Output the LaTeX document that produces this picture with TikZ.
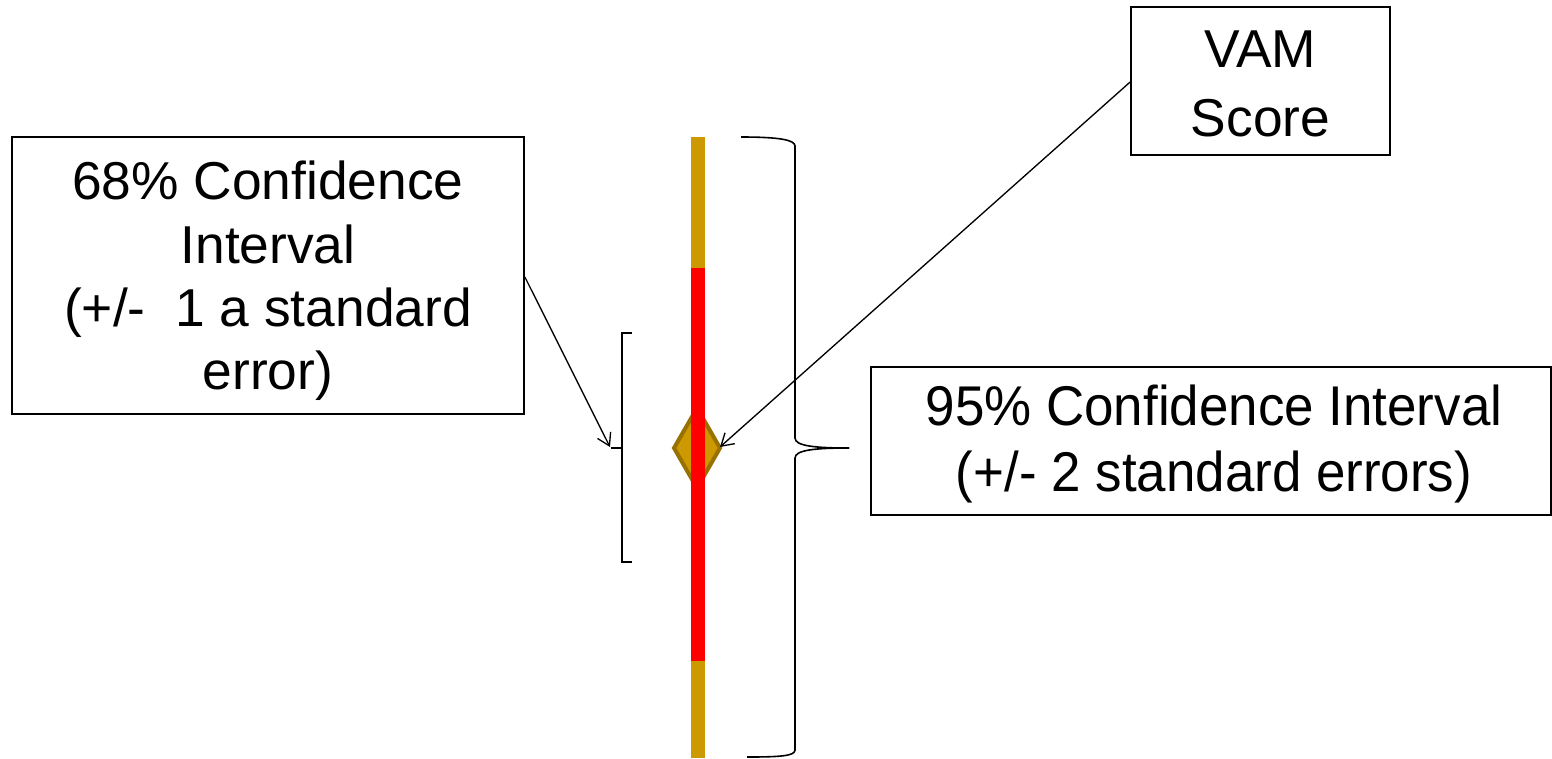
\documentclass[tikz,border=0pt]{standalone}
\usepackage{fontspec}
\setmainfont{Liberation Sans}
\newfontfamily\narrowfont[FakeStretch=0.945]{Liberation Sans}
\usetikzlibrary{arrows.meta}
\definecolor{gold}{HTML}{CC9900}
\definecolor{golddark}{HTML}{987200}
\definecolor{barred}{HTML}{FF0000}
\tikzset{
  labelbox/.style={draw=black, line width=1.3pt, inner sep=0pt},
  labeltext/.style={align=center, inner sep=0pt},
  pointer/.style={line width=1pt, -{Straight Barb[length=9pt,width=11pt]}},
  bracket/.style={line width=1.2pt}
}
\begin{document}
\begin{tikzpicture}[x={(0.75pt,0)}, y={(0,-0.75pt)}]
\useasboundingbox (0,0) rectangle (1552,758);
% boxes
\node[labelbox, minimum width=384pt, minimum height=207.75pt] (ci68) at (268,275.5) {};
\node[labeltext, font=\fontsize{40}{47.5}\selectfont] (ci68t) at (268,281)
  {68\% Confidence\\Interval\\(+/-\ \ 1 a standard\\error)};
\node[labelbox, minimum width=194.25pt, minimum height=111pt] (vam) at (1260.5,81) {};
\node[labeltext, font=\fontsize{40}{52}\selectfont] (vamt) at (1260.5,84) {VAM\\Score};
\node[labelbox, minimum width=510pt, minimum height=111pt] (ci95) at (1211,441) {};
\node[labeltext, font=\narrowfont\fontsize{42}{49}\selectfont] (ci95t) at (1214,444)
  {95\% Confidence Interval\\(+/- 2 standard errors)};
% diamond
\draw[fill=gold, draw=golddark, line width=3pt, line join=miter] (697,408) -- (720,448) -- (697,488) -- (674,448) -- cycle;
% bar
\fill[gold] (691,137) rectangle (705,268);
\fill[barred] (691,268) rectangle (705,661);
\fill[gold] (691,661) rectangle (705,758);
% small bracket
\draw[bracket] (632,333) -- (622,333) -- (622,562) -- (632,562);
\draw[bracket] (622,448) -- (611,448);
% big brace
\draw[bracket] (741,137) .. controls (780,137) and (795,140) .. (795,146) -- (795,438)
  .. controls (795,446) and (815,448) .. (849,448);
\draw[bracket] (849,448) .. controls (815,448) and (795,450) .. (795,458) -- (795,750)
  .. controls (795,756) and (780,757) .. (747,757);
% arrow endpoints
\coordinate (tip68) at (610,447);
\coordinate (tipvam) at (720,447);
\draw[pointer] (ci68.east |- 0,277) -- (tip68);
\draw[pointer] (vam.west |- 0,82) -- (tipvam);
\end{tikzpicture}
\end{document}
